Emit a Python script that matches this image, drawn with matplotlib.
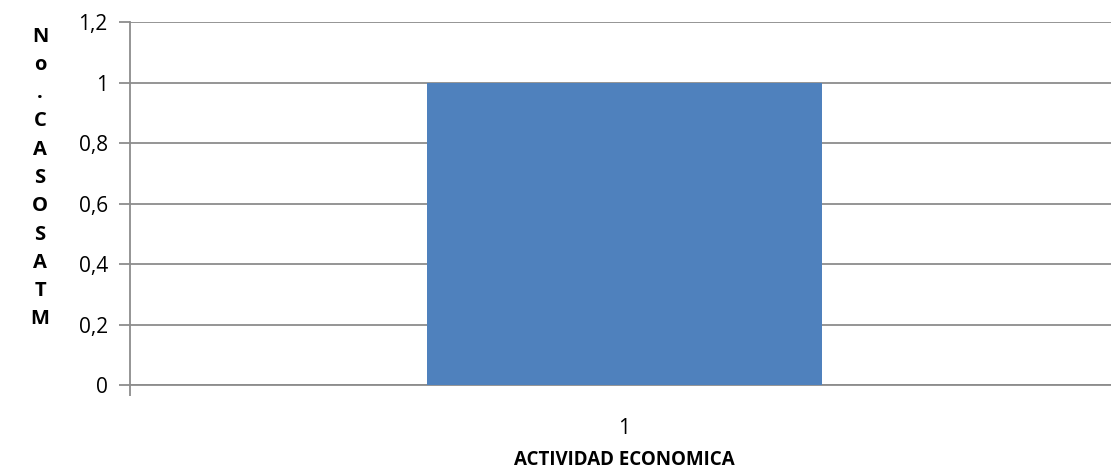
import matplotlib.pyplot as plt

# data
categories = [1]
casos = [1]
y_ticks = [0, 0.2, 0.4, 0.6, 0.8, 1, 1.2]
y_tick_labels = ["0", "0,2", "0,4", "0,6", "0,8", "1", "1,2"]

plt.rcParams['font.family'] = ['Open Sans', 'DejaVu Sans']

fig = plt.figure(figsize=(11.11, 4.70), dpi=100)
# axes run slightly past the right edge, like the original export
ax = fig.add_axes([130 / 1111, 1 - 385 / 470, 989 / 1111, 363 / 470])

ax.bar(categories, casos, width=0.4, color="#4F81BD", zorder=3)

ax.set_xlim(0.5, 1.5)
ax.set_ylim(0, 1.2)
ax.set_yticks(y_ticks)
ax.set_yticklabels(y_tick_labels, fontsize=15)
ax.set_xticks(categories)
ax.set_xticklabels([str(c) for c in categories], fontsize=15)
ax.set_xticks([0.5, 1.5], minor=True)

ax.grid(axis="y", color="#8C8C8C", linewidth=1.3, zorder=0)
for side in ["top", "right"]:
    ax.spines[side].set_visible(False)
ax.spines["left"].set_color("#8C8C8C")
ax.spines["bottom"].set_color("#8C8C8C")
ax.spines["left"].set_linewidth(1.3)
ax.spines["bottom"].set_linewidth(1.3)

ax.tick_params(axis="y", length=8, width=1.3, color="#8C8C8C", pad=8)
ax.tick_params(axis="x", which="major", length=0, pad=24)
ax.tick_params(axis="x", which="minor", length=8, width=1.3, color="#8C8C8C")

ax.set_xlabel("ACTIVIDAD ECONOMICA", fontsize=13.5, fontweight="bold", labelpad=8)

fig.text(40 / 1111, 1 - 178 / 470, "N\no\n.\nC\nA\nS\nO\nS\nA\nT\nM",
         fontsize=14.5, fontweight="bold", ha="center", va="center",
         linespacing=1.55)

fig.savefig("out.png", dpi=100)
